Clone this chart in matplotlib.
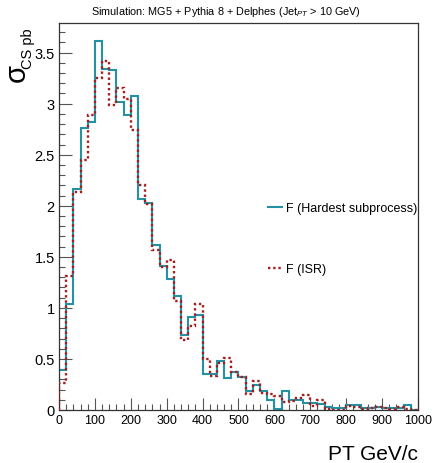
import numpy as np
import matplotlib
matplotlib.use("Agg")
import matplotlib.pyplot as plt
from matplotlib.ticker import MultipleLocator, FormatStrFormatter
from matplotlib.lines import Line2D

plt.rcParams['font.family'] = ['Liberation Sans', 'DejaVu Sans']
plt.rcParams['mathtext.fontset'] = 'custom'
plt.rcParams['mathtext.rm'] = 'Liberation Sans'
plt.rcParams['mathtext.it'] = 'Liberation Sans:italic'
plt.rcParams['mathtext.sf'] = 'Liberation Sans'

bin_edges = np.arange(0, 1001, 20)

hardest = [0.39, 1.04, 2.16, 2.76, 2.82, 3.61, 3.34, 3.33, 3.02, 2.89,
           3.08, 2.07, 2.03, 1.62, 1.41, 1.28, 1.12, 0.73, 0.91, 0.93,
           0.35, 0.35, 0.48, 0.31, 0.37, 0.32, 0.19, 0.24, 0.19, 0.10,
           0.01, 0.19, 0.10, 0.10, 0.07, 0.07, 0.06, 0.03, 0.02, 0.02,
           0.05, 0.05, 0.02, 0.02, 0.03, 0.02, 0.02, 0.02, 0.05, 0.00]

isr = [0.26, 1.31, 2.14, 2.45, 2.89, 3.25, 3.42, 2.99, 3.15, 3.05,
       2.74, 2.20, 2.02, 1.57, 1.40, 1.47, 1.07, 0.69, 0.82, 1.04,
       0.50, 0.33, 0.46, 0.51, 0.37, 0.32, 0.16, 0.28, 0.17, 0.16,
       0.14, 0.08, 0.09, 0.12, 0.15, 0.04, 0.10, 0.01, 0.00, 0.00,
       0.04, 0.03, 0.01, 0.02, 0.03, 0.02, 0.01, 0.03, 0.01, 0.00]

labels = ["F (Hardest subprocess)", "F (ISR)"]
title = "Simulation: MG5 + Pythia 8 + Delphes (Jet$_{PT}$ > 10 GeV)"

W, H = 433, 464
fig = plt.figure(figsize=(W / 100, H / 100), dpi=100)
ax = fig.add_axes([59 / W, 1 - 411 / H, (418 - 59) / W, (411 - 24) / H])

teal = '#2492a4'
dred = '#a31d1d'
ax.stairs(isr, bin_edges, baseline=0, color=dred, lw=1.7, ls=(0, (1, 1.2)), zorder=3)
ax.stairs(hardest, bin_edges, baseline=0, color=teal, lw=1.5, zorder=2)

ax.set_xlim(0, 1000)
ax.set_ylim(0, 1.05 * max(hardest))

ax.xaxis.set_major_locator(MultipleLocator(100))
ax.xaxis.set_minor_locator(MultipleLocator(20))
ax.yaxis.set_major_locator(MultipleLocator(0.5))
ax.yaxis.set_minor_locator(MultipleLocator(0.1))
ax.yaxis.set_major_formatter(FormatStrFormatter('%g'))

ax.tick_params(which='both', direction='in', top=False, right=False, width=0.8, color='#555555')
ax.tick_params(axis='x', which='major', length=9, labelsize=9, pad=3)
ax.tick_params(axis='x', which='minor', length=4.5)
ax.tick_params(axis='y', which='major', length=9, labelsize=10.5, pad=3)
ax.tick_params(axis='y', which='minor', length=4.5)
for s in ax.spines.values():
    s.set_linewidth(0.9)
    s.set_color('#333333')

handles = [Line2D([], [], color=teal, lw=1.5),
           Line2D([], [], color=dred, lw=1.7, ls=(0, (1, 1.2)))]
ax.legend(handles, labels, loc='upper left', bbox_to_anchor=((268 - 59) / 359, (411 - 203) / 387),
          frameon=False, fontsize=9, handlelength=1.1, handletextpad=0.3,
          labelspacing=3.95, borderpad=0, borderaxespad=0)

fig.text(226 / W, 1 - 12 / H, title, ha='center', va='center', fontsize=7.8)
fig.text(17 / W, 1 - 73 / H, 'σ', ha='center', va='center', rotation=90, fontsize=21)
fig.text(28 / W, 1 - 28 / H, 'CS pb', ha='center', va='top', rotation=90, fontsize=10.5)
fig.text(418 / W, 1 - 455 / H, 'PT GeV/c', ha='right', va='center', fontsize=15)

fig.savefig('out.png', dpi=100)
